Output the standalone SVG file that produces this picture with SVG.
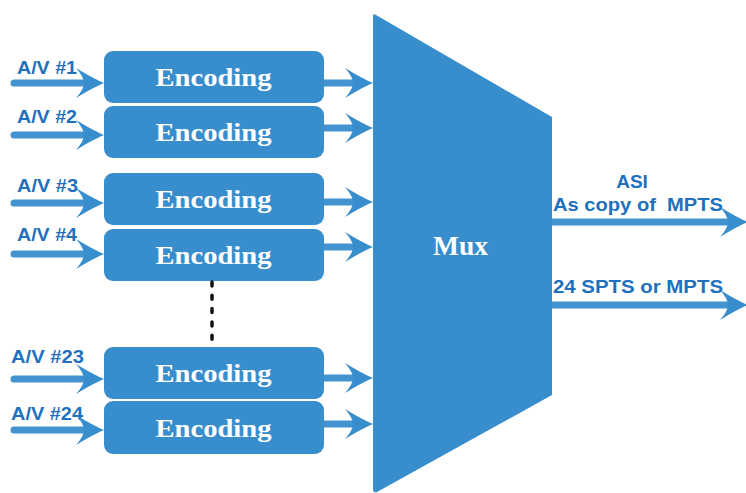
<svg xmlns="http://www.w3.org/2000/svg" width="746" height="493" viewBox="0 0 746 493">
<style>
.box{fill:#388dcc}
.enc{fill:#ffffff;font-family:"Liberation Serif","Times New Roman",serif;font-weight:bold;font-size:26px}
.lbl{fill:#1f70bd;font-family:"Liberation Sans",Arial,sans-serif;font-weight:bold;font-size:19px}
.ln{stroke:#388dcc;stroke-width:7;stroke-linecap:round;fill:none;opacity:0.95}
.ah{fill:#388dcc}
</style>
<defs>
<path id="ah" d="M0,0 Q-10,-4 -28,-15 Q-20,-6 -20,0 Q-20,6 -28,15 Q-10,4 0,0Z"/>
</defs>
<rect width="746" height="493" fill="#ffffff"/>

<g id="mux">
<path class="box" d="M373,16 Q373,13 376,15 L552,117 L552,395 L377,492 Q373,493 373,489 Z"/>
<text x="460.5" y="255" text-anchor="middle" fill="#ffffff" font-family="'Liberation Serif','Times New Roman',serif" font-weight="bold" font-size="28" textLength="55" lengthAdjust="spacingAndGlyphs">Mux</text>
</g>

<g id="enc1"><rect class="box" x="104" y="51" width="220" height="52" rx="9"/><text class="enc" x="213.5" y="86" text-anchor="middle" textLength="116" lengthAdjust="spacingAndGlyphs">Encoding</text></g>
<g id="enc2"><rect class="box" x="104" y="106" width="220" height="52" rx="9"/><text class="enc" x="213.5" y="141" text-anchor="middle" textLength="116" lengthAdjust="spacingAndGlyphs">Encoding</text></g>
<g id="enc3"><rect class="box" x="104" y="173" width="220" height="52" rx="9"/><text class="enc" x="213.5" y="208" text-anchor="middle" textLength="116" lengthAdjust="spacingAndGlyphs">Encoding</text></g>
<g id="enc4"><rect class="box" x="104" y="229" width="220" height="52" rx="9"/><text class="enc" x="213.5" y="264" text-anchor="middle" textLength="116" lengthAdjust="spacingAndGlyphs">Encoding</text></g>
<g id="enc23"><rect class="box" x="104" y="347" width="220" height="52" rx="9"/><text class="enc" x="213.5" y="382" text-anchor="middle" textLength="116" lengthAdjust="spacingAndGlyphs">Encoding</text></g>
<g id="enc24"><rect class="box" x="104" y="401" width="220" height="53" rx="9"/><text class="enc" x="213.5" y="437" text-anchor="middle" textLength="116" lengthAdjust="spacingAndGlyphs">Encoding</text></g>

<g id="labels">
<text class="lbl" x="17" y="74" textLength="60" lengthAdjust="spacingAndGlyphs">A/V #1</text>
<text class="lbl" x="17" y="123" textLength="60" lengthAdjust="spacingAndGlyphs">A/V #2</text>
<text class="lbl" x="17" y="192" textLength="61" lengthAdjust="spacingAndGlyphs">A/V #3</text>
<text class="lbl" x="17" y="241" textLength="60" lengthAdjust="spacingAndGlyphs">A/V #4</text>
<text class="lbl" x="11" y="363" textLength="73" lengthAdjust="spacingAndGlyphs">A/V #23</text>
<text class="lbl" x="11" y="420" textLength="72" lengthAdjust="spacingAndGlyphs">A/V #24</text>
<text class="lbl" x="632" y="188" text-anchor="middle">ASI</text>
<text class="lbl" x="553" y="211" textLength="170" lengthAdjust="spacingAndGlyphs" xml:space="preserve">As copy of  MPTS</text>
<text class="lbl" x="553" y="293" textLength="170" lengthAdjust="spacingAndGlyphs">24 SPTS or MPTS</text>
</g>

<g id="connectors">
<line class="ln" x1="14" y1="83" x2="95" y2="83"/><use href="#ah" class="ah" x="104" y="83"/>
<line class="ln" x1="14" y1="135" x2="95" y2="135"/><use href="#ah" class="ah" x="104" y="135"/>
<line class="ln" x1="14" y1="203" x2="95" y2="203"/><use href="#ah" class="ah" x="104" y="203"/>
<line class="ln" x1="14" y1="254" x2="95" y2="254"/><use href="#ah" class="ah" x="104" y="254"/>
<line class="ln" x1="14" y1="379" x2="95" y2="379"/><use href="#ah" class="ah" x="104" y="379"/>
<line class="ln" x1="14" y1="430" x2="95" y2="430"/><use href="#ah" class="ah" x="104" y="430"/>

<line class="ln" x1="322" y1="83" x2="363" y2="83"/><use href="#ah" class="ah" x="373" y="83"/>
<line class="ln" x1="322" y1="128" x2="363" y2="128"/><use href="#ah" class="ah" x="373" y="128"/>
<line class="ln" x1="322" y1="202" x2="363" y2="202"/><use href="#ah" class="ah" x="373" y="202"/>
<line class="ln" x1="322" y1="247" x2="363" y2="247"/><use href="#ah" class="ah" x="373" y="247"/>
<line class="ln" x1="322" y1="378" x2="363" y2="378"/><use href="#ah" class="ah" x="373" y="378"/>
<line class="ln" x1="322" y1="424" x2="363" y2="424"/><use href="#ah" class="ah" x="373" y="424"/>

<line class="ln" x1="550" y1="222" x2="736" y2="222"/><use href="#ah" class="ah" x="748" y="222"/>
<line class="ln" x1="550" y1="305" x2="736" y2="305"/><use href="#ah" class="ah" x="748" y="305"/>

<line x1="212" y1="282" x2="212" y2="340" stroke="#111111" stroke-width="3.5" stroke-linecap="round" stroke-dasharray="4 9.3"/>
</g>
</svg>
